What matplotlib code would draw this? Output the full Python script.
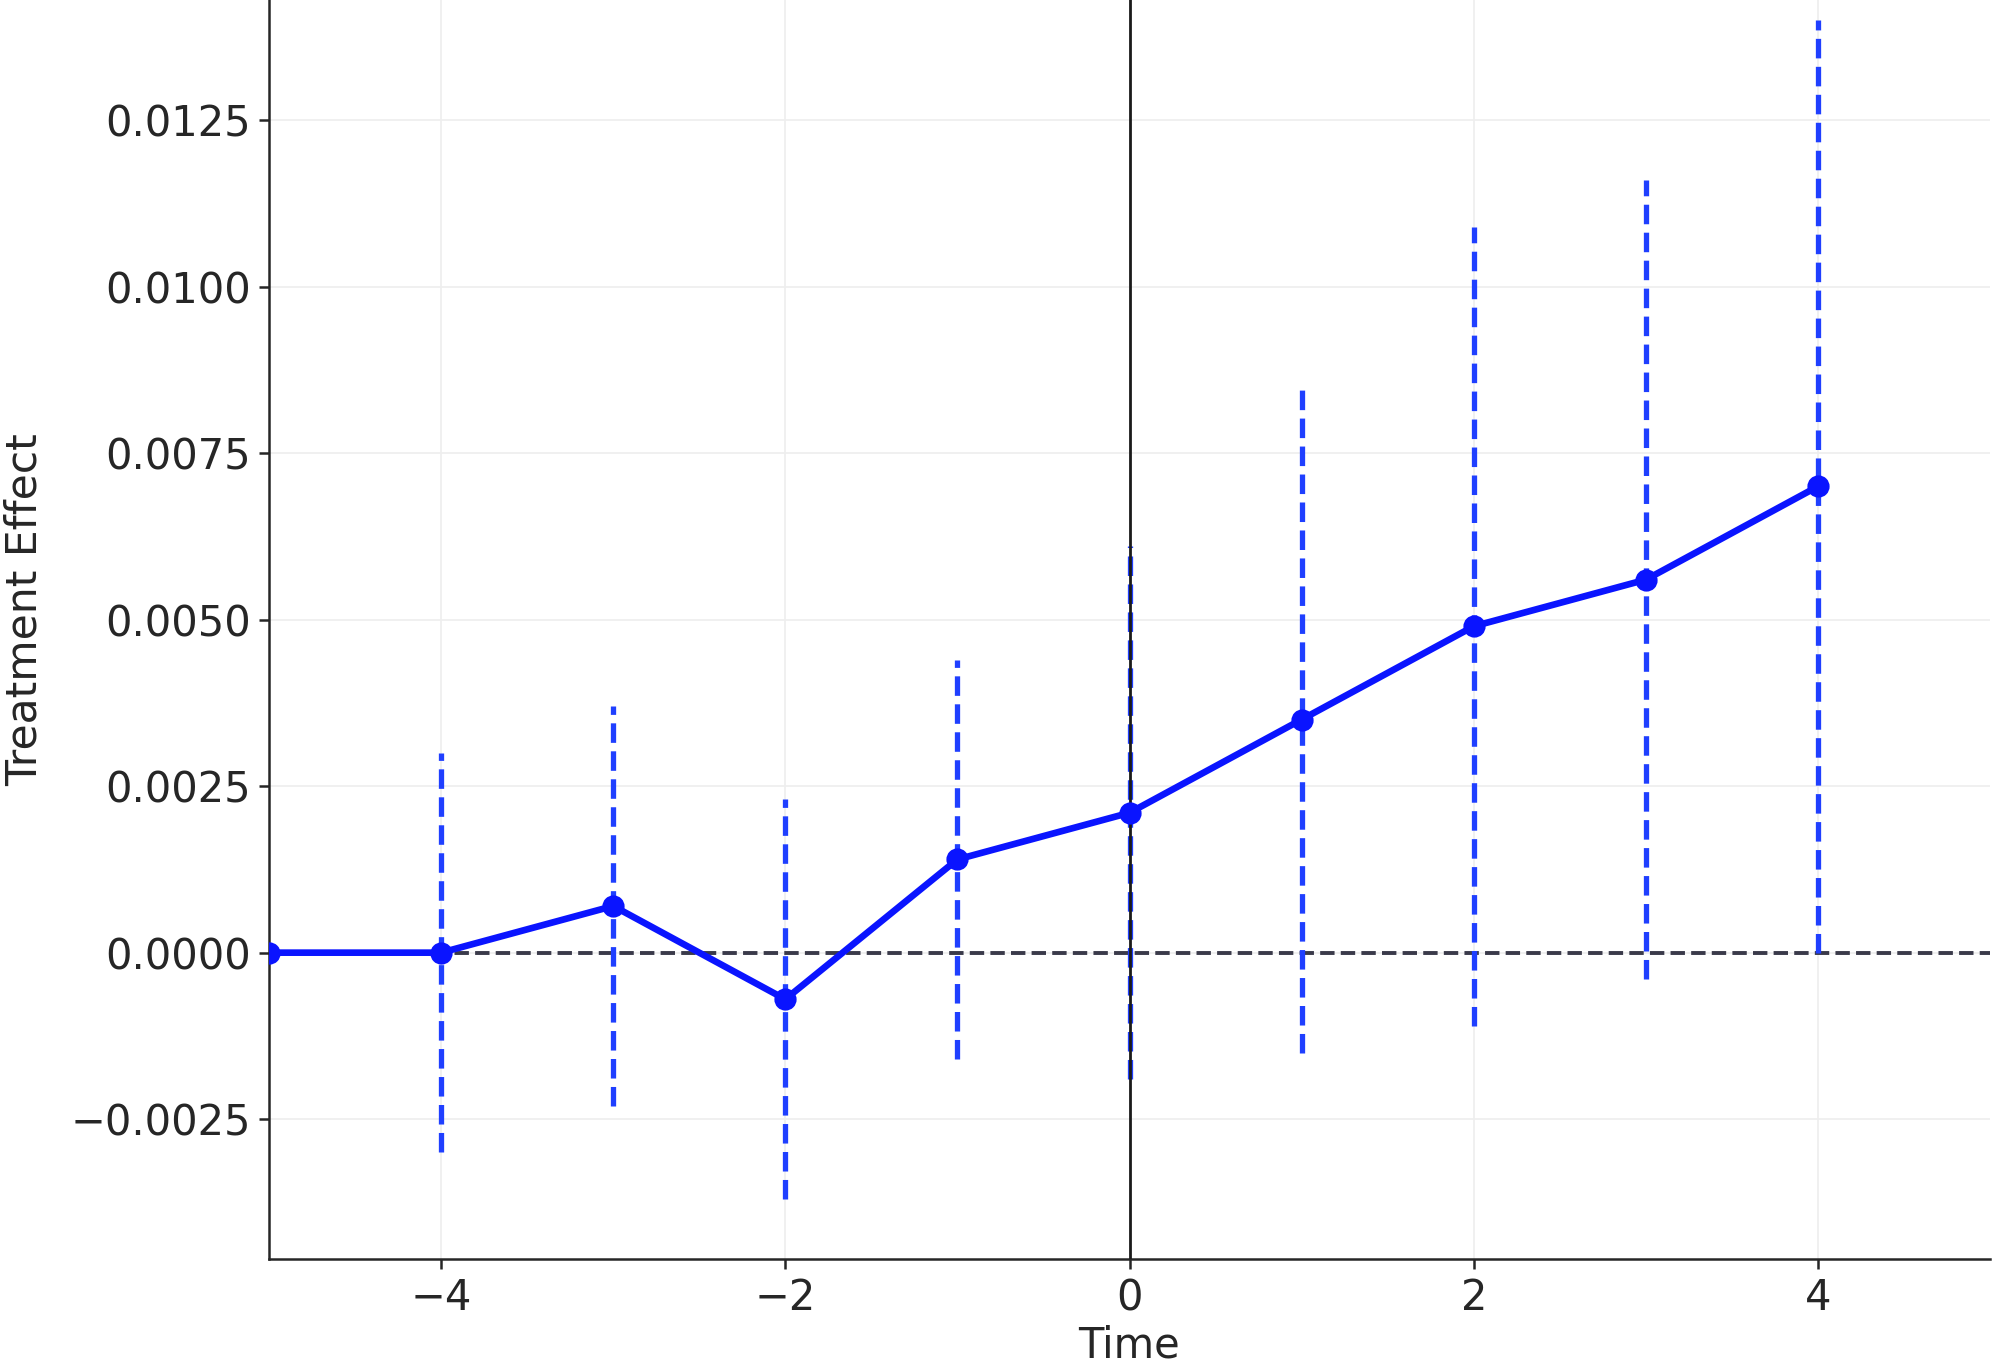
import matplotlib
matplotlib.use("Agg")
import matplotlib.pyplot as plt
import numpy as np

# Data
time = [-5, -4, -3, -2, -1, 0, 1, 2, 3, 4]
effect = [0.0, 0.0, 0.0007, -0.0007, 0.0014, 0.0021, 0.0035, 0.0049, 0.0056, 0.0070]
ci_lower = [0.0, -0.0030, -0.0023, -0.0037, -0.0016, -0.0019, -0.0015, -0.0011, -0.0004, 0.0000]
ci_upper = [0.0, 0.0030, 0.0037, 0.0023, 0.0044, 0.0061, 0.0085, 0.0109, 0.0116, 0.0140]
yticks = [-0.0025, 0.0, 0.0025, 0.0050, 0.0075, 0.0100, 0.0125]
xticks = [-4, -2, 0, 2, 4]

txt = "#262626"
plt.rcParams["font.family"] = ["DejaVu Sans"]
plt.rcParams["font.size"] = 15
plt.rcParams["text.color"] = txt
plt.rcParams["axes.labelcolor"] = txt
plt.rcParams["xtick.color"] = txt
plt.rcParams["ytick.color"] = txt

fig = plt.figure(figsize=(10, 6.85), dpi=200)
# axes extends slightly beyond the top of the figure (cropped chart)
ax = fig.add_axes([0.1345, 0.081, 0.8605, 0.948])

ax.set_axisbelow(True)
ax.grid(True, color="#eeeeee", linewidth=0.6)

ax.axhline(0, color="#3a3a4a", linestyle="--", linewidth=1.4, zorder=2)

ax.vlines(time[1:], ci_lower[1:], ci_upper[1:], colors="#1f3fff",
          linestyles="--", linewidth=1.9, zorder=3)

ax.axvline(0, color="#1a1a1a", linewidth=1.0, zorder=4)

ax.plot(time, effect, color="#0a14ff", linewidth=2.4, marker="o",
        markersize=7, zorder=5)

ax.set_xlim(-5, 5)
ax.set_ylim(-0.0046, 0.0149)
ax.set_xticks(xticks)
ax.set_yticks(yticks)
ax.set_yticklabels([f"{v:.4f}".replace("-", "\u2212") for v in yticks])
ax.set_xticklabels([str(v).replace("-", "\u2212") for v in xticks])

for s in ["top", "right"]:
    ax.spines[s].set_visible(False)
for s in ["left", "bottom"]:
    ax.spines[s].set_color(txt)
    ax.spines[s].set_linewidth(0.9)
ax.tick_params(axis="both", length=3.5, width=0.9, pad=3)

ax.set_xlabel("Time", labelpad=2)
ax.set_ylabel("Treatment Effect", labelpad=9, fontsize=15.3)

fig.savefig("out.png", dpi=200)
